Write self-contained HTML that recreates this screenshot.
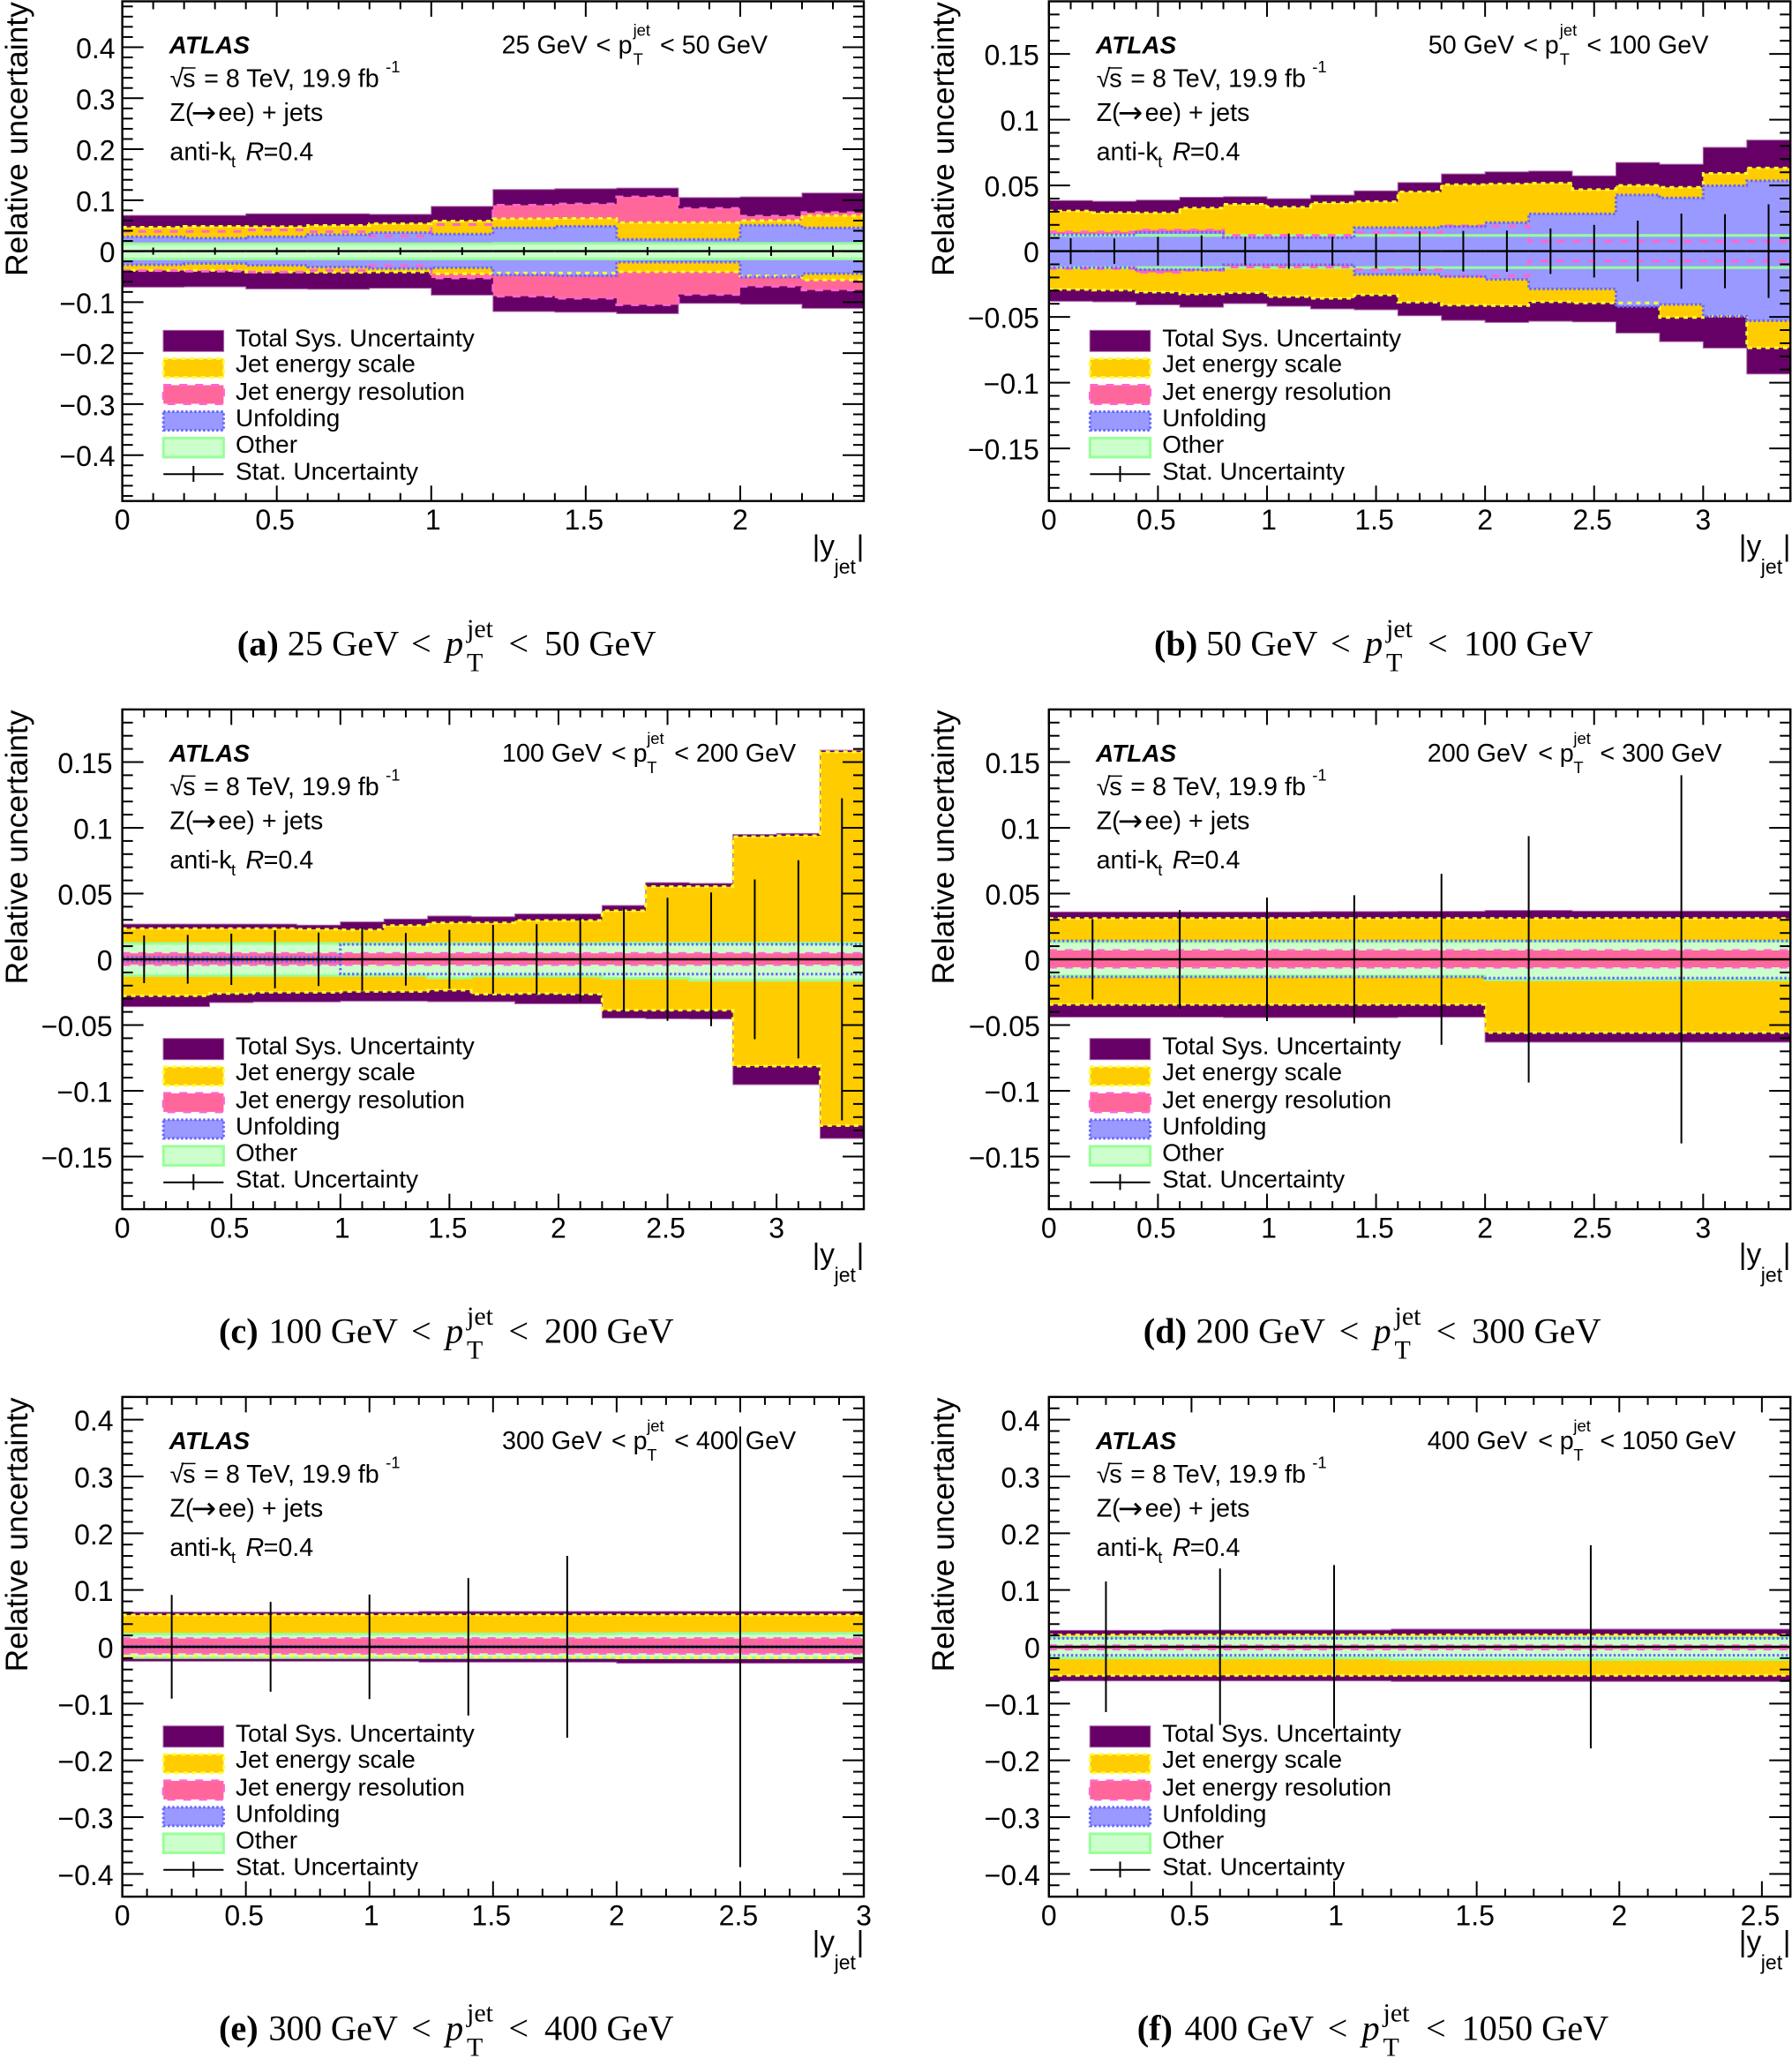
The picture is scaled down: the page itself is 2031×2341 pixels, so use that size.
<!DOCTYPE html>
<html lang="en">
<head>
<meta charset="utf-8">
<title>Relative uncertainty by jet rapidity</title>
<style>
html,body{margin:0;padding:0;background:#fff;}
svg{display:block;}
text{font-family:"Liberation Sans",sans-serif;fill:#000;white-space:pre;}
.lab{font-size:28px;}
.note{font-size:28.7px;}
.arrow{font-family:"DejaVu Sans",sans-serif;font-size:34px;}
.sm{font-size:18.4px;}
.atlas{font-size:28px;font-weight:bold;font-style:italic;}
.ti{font-style:italic;}
.tick{font-size:32px;}
.ytitle{font-size:35.4px;}
.xl{font-size:33.5px;}
.xs{font-size:23px;}
.cap{font-family:"Liberation Serif",serif;font-size:40.3px;}
.capb{font-family:"Liberation Serif",serif;font-size:40.3px;font-weight:bold;}
.capi{font-family:"Liberation Serif",serif;font-size:40.3px;font-style:italic;}
.caps{font-family:"Liberation Serif",serif;font-size:30px;}
.l-total{fill:#660066;stroke:#aa66aa;stroke-width:1;}
.l-jes{fill:#ffcc00;stroke:#ffff33;stroke-width:3;stroke-dasharray:5 5;}
.l-jer{fill:#ff6699;stroke:#ff66cc;stroke-width:3;stroke-dasharray:9 9;}
.l-unf{fill:#9999ff;stroke:#6666ff;stroke-width:3;stroke-dasharray:2.5 2.5;}
.l-oth{fill:#ccffcc;stroke:#99ff99;stroke-width:3;}
</style>
</head>
<body>
<svg id="fig" xmlns="http://www.w3.org/2000/svg" width="2031" height="2341" viewBox="0 0 2031 2341">
<rect x="0" y="0" width="2031" height="2341" fill="#fff"/>

<!-- PANEL A -->
<g id="panel-a" transform="translate(138.6,1.5)">
<g class="marks"></g>
<text class="ytitle" transform="translate(-107.6,311.5) rotate(-90)">Relative uncertainty</text>
<g><text class="xl" x="782" y="628">|y</text><text class="xs" x="807" y="648.5">jet</text><text class="xl" x="832" y="628">|</text></g>
<text class="atlas" x="53.2" y="59">ATLAS</text>
<g><text class="note" x="54" y="97">√</text><line x1="67" x2="83" y1="75.5" y2="75.5" stroke="#000" stroke-width="1.5"/><text class="note" x="68.5" y="97">s</text><text class="note" x="92.5" y="97">= 8 TeV, 19.9 fb</text><text class="sm" x="298.5" y="80.5">-1</text></g>
<g><text class="note" x="53.8" y="135.4">Z(</text><text class="arrow" x="78" y="137.5">→</text><text class="note" x="108.8" y="135.4">ee) + jets</text></g>
<g><text class="note" x="53.8" y="180">anti-k</text><text class="sm" x="123.4" y="188">t</text><text class="note ti" x="139.9" y="180">R</text><text class="note" x="160" y="180">=0.4</text></g>
<g><text class="note" x="430" y="59">25 GeV</text><text class="note" x="536.9" y="59">&lt;</text><text class="note" x="562" y="59">p</text><text class="sm" x="579" y="39">jet</text><text class="sm" x="579" y="72">T</text><text class="note" x="609.4" y="59">&lt; 50 GeV</text></g>
<g>
<rect class="l-total" x="46.4" y="372.8" width="68.6" height="24"/><text class="lab" x="128.4" y="390.8">Total Sys. Uncertainty</text>
<rect class="l-jes" x="46.6" y="405" width="68.2" height="21"/><text class="lab" x="128.4" y="420.2">Jet energy scale</text>
<rect class="l-jer" x="46.6" y="435" width="68.2" height="21"/><text class="lab" x="128.4" y="451.7">Jet energy resolution</text>
<rect class="l-unf" x="46.6" y="465" width="68.2" height="21"/><text class="lab" x="128.4" y="481.7">Unfolding</text>
<rect class="l-oth" x="46.6" y="495" width="68.2" height="21.5"/><text class="lab" x="128.4" y="511.7">Other</text>
<g><line x1="46.6" x2="114.8" y1="535.8" y2="535.8" stroke="#000" stroke-width="2"/><line x1="80.7" x2="80.7" y1="526.5" y2="544.5" stroke="#000" stroke-width="2"/></g><text class="lab" x="128.4" y="541.8">Stat. Uncertainty</text>
</g>
</g>

<!-- PANEL B -->
<g id="panel-b" transform="translate(1188.8,1.5)">
<g class="marks"></g>
<text class="ytitle" transform="translate(-107.6,311.5) rotate(-90)">Relative uncertainty</text>
<g><text class="xl" x="782" y="628">|y</text><text class="xs" x="807" y="648.5">jet</text><text class="xl" x="832" y="628">|</text></g>
<text class="atlas" x="53.2" y="59">ATLAS</text>
<g><text class="note" x="54" y="97">√</text><line x1="67" x2="83" y1="75.5" y2="75.5" stroke="#000" stroke-width="1.5"/><text class="note" x="68.5" y="97">s</text><text class="note" x="92.5" y="97">= 8 TeV, 19.9 fb</text><text class="sm" x="298.5" y="80.5">-1</text></g>
<g><text class="note" x="53.8" y="135.4">Z(</text><text class="arrow" x="78" y="137.5">→</text><text class="note" x="108.8" y="135.4">ee) + jets</text></g>
<g><text class="note" x="53.8" y="180">anti-k</text><text class="sm" x="123.4" y="188">t</text><text class="note ti" x="139.9" y="180">R</text><text class="note" x="160" y="180">=0.4</text></g>
<g><text class="note" x="430" y="59">50 GeV</text><text class="note" x="537.6" y="59">&lt;</text><text class="note" x="562" y="59">p</text><text class="sm" x="579" y="39">jet</text><text class="sm" x="579" y="72">T</text><text class="note" x="609.6" y="59">&lt; 100 GeV</text></g>
<g>
<rect class="l-total" x="46.4" y="372.8" width="68.6" height="24"/><text class="lab" x="128.4" y="390.8">Total Sys. Uncertainty</text>
<rect class="l-jes" x="46.6" y="405" width="68.2" height="21"/><text class="lab" x="128.4" y="420.2">Jet energy scale</text>
<rect class="l-jer" x="46.6" y="435" width="68.2" height="21"/><text class="lab" x="128.4" y="451.7">Jet energy resolution</text>
<rect class="l-unf" x="46.6" y="465" width="68.2" height="21"/><text class="lab" x="128.4" y="481.7">Unfolding</text>
<rect class="l-oth" x="46.6" y="495" width="68.2" height="21.5"/><text class="lab" x="128.4" y="511.7">Other</text>
<g><line x1="46.6" x2="114.8" y1="535.8" y2="535.8" stroke="#000" stroke-width="2"/><line x1="80.7" x2="80.7" y1="526.5" y2="544.5" stroke="#000" stroke-width="2"/></g><text class="lab" x="128.4" y="541.8">Stat. Uncertainty</text>
</g>
</g>

<!-- PANEL C -->
<g id="panel-c" transform="translate(138.6,803.9)">
<g class="marks"></g>
<text class="ytitle" transform="translate(-107.6,311.5) rotate(-90)">Relative uncertainty</text>
<g><text class="xl" x="782" y="628">|y</text><text class="xs" x="807" y="648.5">jet</text><text class="xl" x="832" y="628">|</text></g>
<text class="atlas" x="53.2" y="59">ATLAS</text>
<g><text class="note" x="54" y="97">√</text><line x1="67" x2="83" y1="75.5" y2="75.5" stroke="#000" stroke-width="1.5"/><text class="note" x="68.5" y="97">s</text><text class="note" x="92.5" y="97">= 8 TeV, 19.9 fb</text><text class="sm" x="298.5" y="80.5">-1</text></g>
<g><text class="note" x="53.8" y="135.4">Z(</text><text class="arrow" x="78" y="137.5">→</text><text class="note" x="108.8" y="135.4">ee) + jets</text></g>
<g><text class="note" x="53.8" y="180">anti-k</text><text class="sm" x="123.4" y="188">t</text><text class="note ti" x="139.9" y="180">R</text><text class="note" x="160" y="180">=0.4</text></g>
<g><text class="note" x="430.4" y="59">100 GeV</text><text class="note" x="554.4" y="59">&lt;</text><text class="note" x="579" y="59">p</text><text class="sm" x="594.6" y="39">jet</text><text class="sm" x="594.6" y="72">T</text><text class="note" x="625.6" y="59">&lt; 200 GeV</text></g>
<g>
<rect class="l-total" x="46.4" y="372.8" width="68.6" height="24"/><text class="lab" x="128.4" y="390.8">Total Sys. Uncertainty</text>
<rect class="l-jes" x="46.6" y="405" width="68.2" height="21"/><text class="lab" x="128.4" y="420.2">Jet energy scale</text>
<rect class="l-jer" x="46.6" y="435" width="68.2" height="21"/><text class="lab" x="128.4" y="451.7">Jet energy resolution</text>
<rect class="l-unf" x="46.6" y="465" width="68.2" height="21"/><text class="lab" x="128.4" y="481.7">Unfolding</text>
<rect class="l-oth" x="46.6" y="495" width="68.2" height="21.5"/><text class="lab" x="128.4" y="511.7">Other</text>
<g><line x1="46.6" x2="114.8" y1="535.8" y2="535.8" stroke="#000" stroke-width="2"/><line x1="80.7" x2="80.7" y1="526.5" y2="544.5" stroke="#000" stroke-width="2"/></g><text class="lab" x="128.4" y="541.8">Stat. Uncertainty</text>
</g>
</g>

<!-- PANEL D -->
<g id="panel-d" transform="translate(1188.8,803.9)">
<g class="marks"></g>
<text class="ytitle" transform="translate(-107.6,311.5) rotate(-90)">Relative uncertainty</text>
<g><text class="xl" x="782" y="628">|y</text><text class="xs" x="807" y="648.5">jet</text><text class="xl" x="832" y="628">|</text></g>
<text class="atlas" x="53.2" y="59">ATLAS</text>
<g><text class="note" x="54" y="97">√</text><line x1="67" x2="83" y1="75.5" y2="75.5" stroke="#000" stroke-width="1.5"/><text class="note" x="68.5" y="97">s</text><text class="note" x="92.5" y="97">= 8 TeV, 19.9 fb</text><text class="sm" x="298.5" y="80.5">-1</text></g>
<g><text class="note" x="53.8" y="135.4">Z(</text><text class="arrow" x="78" y="137.5">→</text><text class="note" x="108.8" y="135.4">ee) + jets</text></g>
<g><text class="note" x="53.8" y="180">anti-k</text><text class="sm" x="123.4" y="188">t</text><text class="note ti" x="139.9" y="180">R</text><text class="note" x="160" y="180">=0.4</text></g>
<g><text class="note" x="429" y="59">200 GeV</text><text class="note" x="554.4" y="59">&lt;</text><text class="note" x="579" y="59">p</text><text class="sm" x="594.6" y="39">jet</text><text class="sm" x="594.6" y="72">T</text><text class="note" x="624.6" y="59">&lt; 300 GeV</text></g>
<g>
<rect class="l-total" x="46.4" y="372.8" width="68.6" height="24"/><text class="lab" x="128.4" y="390.8">Total Sys. Uncertainty</text>
<rect class="l-jes" x="46.6" y="405" width="68.2" height="21"/><text class="lab" x="128.4" y="420.2">Jet energy scale</text>
<rect class="l-jer" x="46.6" y="435" width="68.2" height="21"/><text class="lab" x="128.4" y="451.7">Jet energy resolution</text>
<rect class="l-unf" x="46.6" y="465" width="68.2" height="21"/><text class="lab" x="128.4" y="481.7">Unfolding</text>
<rect class="l-oth" x="46.6" y="495" width="68.2" height="21.5"/><text class="lab" x="128.4" y="511.7">Other</text>
<g><line x1="46.6" x2="114.8" y1="535.8" y2="535.8" stroke="#000" stroke-width="2"/><line x1="80.7" x2="80.7" y1="526.5" y2="544.5" stroke="#000" stroke-width="2"/></g><text class="lab" x="128.4" y="541.8">Stat. Uncertainty</text>
</g>
</g>

<!-- PANEL E -->
<g id="panel-e" transform="translate(138.6,1582.9)">
<g class="marks"></g>
<text class="ytitle" transform="translate(-107.6,311.5) rotate(-90)">Relative uncertainty</text>
<g><text class="xl" x="782" y="628">|y</text><text class="xs" x="807" y="648.5">jet</text><text class="xl" x="832" y="628">|</text></g>
<text class="atlas" x="53.2" y="59">ATLAS</text>
<g><text class="note" x="54" y="97">√</text><line x1="67" x2="83" y1="75.5" y2="75.5" stroke="#000" stroke-width="1.5"/><text class="note" x="68.5" y="97">s</text><text class="note" x="92.5" y="97">= 8 TeV, 19.9 fb</text><text class="sm" x="298.5" y="80.5">-1</text></g>
<g><text class="note" x="53.8" y="135.4">Z(</text><text class="arrow" x="78" y="137.5">→</text><text class="note" x="108.8" y="135.4">ee) + jets</text></g>
<g><text class="note" x="53.8" y="180">anti-k</text><text class="sm" x="123.4" y="188">t</text><text class="note ti" x="139.9" y="180">R</text><text class="note" x="160" y="180">=0.4</text></g>
<g><text class="note" x="430.4" y="59">300 GeV</text><text class="note" x="554.4" y="59">&lt;</text><text class="note" x="579" y="59">p</text><text class="sm" x="594.6" y="39">jet</text><text class="sm" x="594.6" y="72">T</text><text class="note" x="625.6" y="59">&lt; 400 GeV</text></g>
<g>
<rect class="l-total" x="46.4" y="372.8" width="68.6" height="24"/><text class="lab" x="128.4" y="390.8">Total Sys. Uncertainty</text>
<rect class="l-jes" x="46.6" y="405" width="68.2" height="21"/><text class="lab" x="128.4" y="420.2">Jet energy scale</text>
<rect class="l-jer" x="46.6" y="435" width="68.2" height="21"/><text class="lab" x="128.4" y="451.7">Jet energy resolution</text>
<rect class="l-unf" x="46.6" y="465" width="68.2" height="21"/><text class="lab" x="128.4" y="481.7">Unfolding</text>
<rect class="l-oth" x="46.6" y="495" width="68.2" height="21.5"/><text class="lab" x="128.4" y="511.7">Other</text>
<g><line x1="46.6" x2="114.8" y1="535.8" y2="535.8" stroke="#000" stroke-width="2"/><line x1="80.7" x2="80.7" y1="526.5" y2="544.5" stroke="#000" stroke-width="2"/></g><text class="lab" x="128.4" y="541.8">Stat. Uncertainty</text>
</g>
</g>

<!-- PANEL F -->
<g id="panel-f" transform="translate(1188.8,1582.9)">
<g class="marks"></g>
<text class="ytitle" transform="translate(-107.6,311.5) rotate(-90)">Relative uncertainty</text>
<g><text class="xl" x="782" y="628">|y</text><text class="xs" x="807" y="648.5">jet</text><text class="xl" x="832" y="628">|</text></g>
<text class="atlas" x="53.2" y="59">ATLAS</text>
<g><text class="note" x="54" y="97">√</text><line x1="67" x2="83" y1="75.5" y2="75.5" stroke="#000" stroke-width="1.5"/><text class="note" x="68.5" y="97">s</text><text class="note" x="92.5" y="97">= 8 TeV, 19.9 fb</text><text class="sm" x="298.5" y="80.5">-1</text></g>
<g><text class="note" x="53.8" y="135.4">Z(</text><text class="arrow" x="78" y="137.5">→</text><text class="note" x="108.8" y="135.4">ee) + jets</text></g>
<g><text class="note" x="53.8" y="180">anti-k</text><text class="sm" x="123.4" y="188">t</text><text class="note ti" x="139.9" y="180">R</text><text class="note" x="160" y="180">=0.4</text></g>
<g><text class="note" x="429" y="59">400 GeV</text><text class="note" x="554.4" y="59">&lt;</text><text class="note" x="579" y="59">p</text><text class="sm" x="594.6" y="39">jet</text><text class="sm" x="594.6" y="72">T</text><text class="note" x="624.6" y="59">&lt; 1050 GeV</text></g>
<g>
<rect class="l-total" x="46.4" y="372.8" width="68.6" height="24"/><text class="lab" x="128.4" y="390.8">Total Sys. Uncertainty</text>
<rect class="l-jes" x="46.6" y="405" width="68.2" height="21"/><text class="lab" x="128.4" y="420.2">Jet energy scale</text>
<rect class="l-jer" x="46.6" y="435" width="68.2" height="21"/><text class="lab" x="128.4" y="451.7">Jet energy resolution</text>
<rect class="l-unf" x="46.6" y="465" width="68.2" height="21"/><text class="lab" x="128.4" y="481.7">Unfolding</text>
<rect class="l-oth" x="46.6" y="495" width="68.2" height="21.5"/><text class="lab" x="128.4" y="511.7">Other</text>
<g><line x1="46.6" x2="114.8" y1="535.8" y2="535.8" stroke="#000" stroke-width="2"/><line x1="80.7" x2="80.7" y1="526.5" y2="544.5" stroke="#000" stroke-width="2"/></g><text class="lab" x="128.4" y="541.8">Stat. Uncertainty</text>
</g>
</g>

<!-- CAPTIONS -->
<g><text class="capb" x="268.8" y="742.7">(a)</text><text class="cap" x="325.8" y="742.7">25 GeV</text><text class="cap" x="466" y="742.7">&lt;</text><text class="capi" x="505" y="742.7">p</text><text class="caps" x="529" y="721.8">jet</text><text class="caps" x="529" y="760.6">T</text><text class="cap" x="576.4" y="742.7">&lt;</text><text class="cap" x="617" y="742.7">50 GeV</text></g>
<g><text class="capb" x="1308" y="742.7">(b)</text><text class="cap" x="1367" y="742.7">50 GeV</text><text class="cap" x="1508" y="742.7">&lt;</text><text class="capi" x="1547" y="742.7">p</text><text class="caps" x="1571" y="721.8">jet</text><text class="caps" x="1571" y="760.6">T</text><text class="cap" x="1618" y="742.7">&lt;</text><text class="cap" x="1659" y="742.7">100 GeV</text></g>
<g><text class="capb" x="248" y="1521.7">(c)</text><text class="cap" x="304.4" y="1521.7">100 GeV</text><text class="cap" x="466" y="1521.7">&lt;</text><text class="capi" x="505" y="1521.7">p</text><text class="caps" x="529" y="1500.8">jet</text><text class="caps" x="529" y="1539.6">T</text><text class="cap" x="576.4" y="1521.7">&lt;</text><text class="cap" x="617" y="1521.7">200 GeV</text></g>
<g><text class="capb" x="1295.8" y="1521.7">(d)</text><text class="cap" x="1355.5" y="1521.7">200 GeV</text><text class="cap" x="1517.6" y="1521.7">&lt;</text><text class="capi" x="1556.5" y="1521.7">p</text><text class="caps" x="1580.5" y="1500.8">jet</text><text class="caps" x="1580.5" y="1539.6">T</text><text class="cap" x="1627.8" y="1521.7">&lt;</text><text class="cap" x="1668" y="1521.7">300 GeV</text></g>
<g><text class="capb" x="248" y="2311.6">(e)</text><text class="cap" x="304.4" y="2311.6">300 GeV</text><text class="cap" x="466" y="2311.6">&lt;</text><text class="capi" x="505" y="2311.6">p</text><text class="caps" x="529" y="2290.7">jet</text><text class="caps" x="529" y="2329.5">T</text><text class="cap" x="576.4" y="2311.6">&lt;</text><text class="cap" x="617" y="2311.6">400 GeV</text></g>
<g><text class="capb" x="1288.7" y="2311.6">(f)</text><text class="cap" x="1342.5" y="2311.6">400 GeV</text><text class="cap" x="1504.6" y="2311.6">&lt;</text><text class="capi" x="1543.5" y="2311.6">p</text><text class="caps" x="1567.5" y="2290.7">jet</text><text class="caps" x="1567.5" y="2329.5">T</text><text class="cap" x="1616" y="2311.6">&lt;</text><text class="cap" x="1656.5" y="2311.6">1050 GeV</text></g>
</svg>

<script>
// ---- tick labels ----
const yLabelsWide = ["0.4","0.3","0.2","0.1","0","\u22120.1","\u22120.2","\u22120.3","\u22120.4"];
const yLabelsNarrow = ["0.15","0.1","0.05","0","\u22120.05","\u22120.1","\u22120.15"];
const xLabels24 = ["0","0.5","1","1.5","2"];
const xLabels34 = ["0","0.5","1","1.5","2","2.5","3"];
const xLabels30 = ["0","0.5","1","1.5","2","2.5","3"];
const xLabels26 = ["0","0.5","1","1.5","2","2.5"];

// ---- panel a: 25-50 GeV ----
const aEdges = [0,0.2,0.4,0.6,0.8,1.0,1.2,1.4,1.6,1.8,2.0,2.2,2.4];
const aTotalUp = [.070,.070,.0734,.0734,.0723,.0879,.1208,.1225,.1237,.1052,.1064,.1139];
const aTotalDn = [-.0705,-.0699,-.074,-.0746,-.0728,-.0861,-.1185,-.1197,-.1225,-.1023,-.104,-.1121];
const aJesUp = [.0468,.0486,.048,.0503,.0538,.059,.0636,.0642,.0561,.0561,.0601,.0699];
const aJesDn = [-.0376,-.0376,-.041,-.0416,-.041,-.0445,-.0428,-.0428,-.0405,-.0405,-.0486,-.0566];
const aJerUp = [.0387,.0387,.0416,.0382,.0295,.052,.0902,.0925,.1064,.0838,.0688,.0757];
const aJerDn = [-.0382,-.0393,-.041,-.0376,-.0283,-.0526,-.0884,-.0925,-.1052,-.085,-.0688,-.0763];
const aUnfUp = [.0283,.0254,.0283,.0324,.0364,.0335,.0457,.0486,.0231,.0231,.0509,.0457];
const aUnfDn = [-.0266,-.0243,-.0277,-.0312,-.0341,-.0324,-.0468,-.048,-.0214,-.0214,-.0509,-.0439];
const aOthUp = [.0145,.0145,.0145,.0145,.0145,.0145,.015,.015,.015,.015,.015,.015];
const aOthDn = [-.015,-.015,-.015,-.015,-.015,-.015,-.015,-.015,-.015,-.015,-.015,-.015];
const aStat = [.007,.007,.007,.0075,.007,.0075,.008,.008,.008,.0085,.0095,.011];

// ---- panel b: 50-100 GeV ----
const bEdges = [0,0.2,0.4,0.6,0.8,1.0,1.2,1.4,1.6,1.8,2.0,2.2,2.4,2.6,2.8,3.0,3.2,3.4];
const bTotalUp = [.0385,.0379,.0388,.041,.0414,.0399,.0426,.0459,.0522,.0587,.0603,.0609,.0573,.0674,.0661,.0789,.0845];
const bTotalDn = [-.0381,-.0385,-.0408,-.0426,-.0399,-.0419,-.0439,-.0446,-.0491,-.0526,-.0542,-.0533,-.0538,-.0623,-.0688,-.0737,-.0934];
const bJesUp = [.0305,.0293,.0291,.0327,.0356,.0334,.0367,.0376,.045,.0506,.0511,.0517,.0468,.05,.0486,.0591,.0632];
const bJesDn = [-.0291,-.0296,-.0311,-.0325,-.0316,-.0345,-.0358,-.0332,-.0388,-.041,-.0414,-.0385,-.0394,-.0394,-.0504,-.0495,-.0735];
const bJerUp = [.0146,.0146,.0161,.0161,.0121,.0121,.0121,.0141,.0141,.0193,.019,.0076,.0076,.0076,.0076,.0076,.0076];
const bJerDn = [-.0132,-.0132,-.0161,-.0145,-.0121,-.0121,-.0121,-.0141,-.0141,-.0188,-.0188,-.0074,-.0074,-.0074,-.0074,-.0074,-.0074];
const bUnfUp = [.0125,.0125,.0143,.0143,.0103,.0103,.0103,.0179,.0179,.0188,.0217,.0284,.0284,.0428,.0405,.0497,.0535];
const bUnfDn = [-.0125,-.0125,-.0141,-.0141,-.0103,-.0103,-.0103,-.0177,-.0177,-.0193,-.0215,-.0287,-.0287,-.0421,-.0405,-.0495,-.0529];
const bOthUp = [.012,.012,.012,.012,.012,.012,.012,.012,.012,.012,.012,.012,.012,.012,.012,.012,.012];
const bOthDn = [-.0125,-.0125,-.0125,-.0125,-.0125,-.0125,-.0125,-.0125,-.0125,-.0125,-.0125,-.0125,-.0125,-.0125,-.0125,-.0125,-.0125];
const bStat = [.0098,.0096,.0109,.012,.0107,.0134,.011,.0131,.015,.0154,.0157,.0173,.02,.0232,.0286,.0282,.0356];

// ---- panel c: 100-200 GeV ----
const cEdges = [0,0.2,0.4,0.6,0.8,1.0,1.2,1.4,1.6,1.8,2.0,2.2,2.4,2.6,2.8,3.0,3.2,3.4];
const cTotalUp = [.0268,.0268,.0268,.0268,.026,.0284,.0306,.0329,.0324,.0345,.0345,.0409,.0583,.0577,.095,.0957,.159];
const cTotalDn = [-.036,-.036,-.0329,-.0324,-.0324,-.0318,-.0318,-.0322,-.0322,-.0338,-.0338,-.0447,-.0452,-.0454,-.0953,-.0953,-.1362];
const cJesUp = [.0233,.0233,.0233,.0233,.0228,.0224,.0257,.0277,.0277,.0295,.0295,.0369,.0553,.0553,.0933,.094,.1577];
const cJesDn = [-.0277,-.0277,-.026,-.0251,-.0251,-.0244,-.0244,-.0235,-.0264,-.026,-.0264,-.0387,-.0387,-.0387,-.0812,-.0812,-.1264];
const cJerUp = [.0045,.0045,.0045,.0045,.0045,.0045,.0045,.0045,.0045,.0045,.0045,.0045,.0045,.0045,.0045,.0045,.0045];
const cJerDn = [-.004,-.004,-.004,-.004,-.004,-.004,-.004,-.004,-.004,-.004,-.004,-.004,-.004,-.004,-.004,-.004,-.004];
const cUnfUp = [.0014,.0014,.0014,.0014,.0014,.0114,.0114,.0114,.0114,.0114,.0114,.0114,.0114,.0114,.0114,.0114,.0114];
const cUnfDn = [-.0014,-.0014,-.0014,-.0014,-.0014,-.0112,-.0112,-.0112,-.0112,-.0112,-.0112,-.0112,-.0112,-.0112,-.0112,-.0112,-.0112];
const cOthUp = [.0121,.0121,.0121,.0121,.0121,.0121,.0121,.0121,.0121,.0121,.0121,.0123,.0123,.0123,.0123,.0123,.0123];
const cOthDn = [-.0123,-.0123,-.0123,-.0123,-.0123,-.0123,-.0123,-.0141,-.0128,-.0128,-.0128,-.0143,-.0143,-.0159,-.0159,-.0159,-.0159];
const cStat = [.0181,.0185,.0195,.0221,.0203,.024,.02,.0224,.0262,.0268,.032,.0395,.0468,.0508,.0607,.0753,.1225];

// ---- panel d: 200-300 GeV ----
const dEdges = [0,0.4,0.8,1.2,1.6,2.0,2.4,3.4];
const dTotalUp = [.036,.036,.036,.0363,.0365,.0372,.0367];
const dTotalDn = [-.044,-.044,-.0443,-.0443,-.044,-.063,-.063];
const dJesUp = [.031,.031,.031,.031,.031,.031,.031];
const dJesDn = [-.0343,-.0343,-.0343,-.0343,-.0343,-.0557,-.0557];
const dJerUp = [.0067,.0067,.0067,.0067,.0067,.0067,.0067];
const dJerDn = [-.006,-.006,-.006,-.006,-.006,-.006,-.006];
const dUnfUp = [.014,.014,.014,.014,.014,.014,.014];
const dUnfDn = [-.0133,-.0133,-.0133,-.0133,-.0133,-.0143,-.0143];
const dOthUp = [.0133,.0133,.0133,.0133,.0133,.0137,.0137];
const dOthDn = [-.0127,-.0127,-.0127,-.0127,-.0127,-.0157,-.0157];
const dStat = [.0305,.0375,.047,.0487,.065,.0937,.14];

// ---- panel e: 300-400 GeV ----
const eEdges = [0,0.4,0.8,1.2,1.6,2.0,3.0];
const eTotalUp = [.0611,.0611,.0611,.0622,.0622,.0622];
const eTotalDn = [-.0254,-.0254,-.0254,-.027,-.027,-.029];
const eJesUp = [.056,.056,.056,.056,.056,.056];
const eJesDn = [-.0166,-.0166,-.0166,-.018,-.018,-.0195];
const eJerUp = [.0145,.0145,.0145,.0145,.0145,.0145];
const eJerDn = [-.0114,-.0114,-.0114,-.0114,-.0114,-.0114];
const eUnfUp = [.001,.001,.001,.001,.001,.001];
const eUnfDn = [-.001,-.001,-.001,-.001,-.001,-.001];
const eOthUp = [.0223,.0223,.0223,.0228,.0228,.0238];
const eOthDn = [-.019,-.019,-.019,-.019,-.019,-.0195];
const eStat = [.0913,.079,.092,.121,.16,.388];

// ---- panel f: 400-1050 GeV ----
const fEdges = [0,0.4,0.8,1.2,2.6];
const fTotalUp = [.029,.0295,.0295,.0311];
const fTotalDn = [-.06,-.06,-.06,-.0611];
const fJesUp = [.0207,.0207,.0207,.0207];
const fJesDn = [-.0503,-.0503,-.0503,-.0503];
const fJerUp = [.002,.002,.002,.002];
const fJerDn = [-.0041,-.0041,-.0041,-.0041];
const fUnfUp = [.015,.015,.015,.015];
const fUnfDn = [-.015,-.015,-.015,-.015];
const fOthUp = [.0166,.0166,.0166,.0166];
const fOthDn = [-.0197,-.0197,-.0197,-.0223];
const fStat = [.115,.138,.144,.179];

const NS = 'http://www.w3.org/2000/svg';
const PW = 840.4, PH = 566.2;

const styleFill = {total:'#660066',jes:'#ffcc00',jer:'#ff6699',unf:'#9999ff',oth:'#ccffcc'};
const styleLine = {
  total:{c:'#aa66aa',w:1,d:''},
  oth:{c:'#99ff99',w:3,d:''},
  jes:{c:'#ffff33',w:3,d:'5 5'},
  jer:{c:'#ff66cc',w:3,d:'9 9'},
  unf:{c:'#6666ff',w:3,d:'2.5 2.5'}
};
const lineOrder = ['total','oth','jes','jer','unf'];

function mk(tag, attrs, parent){
  const el = document.createElementNS(NS, tag);
  for (const k in attrs) el.setAttribute(k, attrs[k]);
  parent.appendChild(el);
  return el;
}
function stepPath(edges, vals, sx, sy){
  let d = 'M' + sx(edges[0]).toFixed(2) + ' ' + sy(vals[0]).toFixed(2);
  for (let i = 0; i < vals.length; i++){
    d += ' L' + sx(edges[i]).toFixed(2) + ' ' + sy(vals[i]).toFixed(2);
    d += ' L' + sx(edges[i+1]).toFixed(2) + ' ' + sy(vals[i]).toFixed(2);
  }
  return d;
}
function bandPath(edges, up, dn, sx, sy){
  let d = stepPath(edges, up, sx, sy);
  for (let i = dn.length - 1; i >= 0; i--){
    d += ' L' + sx(edges[i+1]).toFixed(2) + ' ' + sy(dn[i]).toFixed(2);
    d += ' L' + sx(edges[i]).toFixed(2) + ' ' + sy(dn[i]).toFixed(2);
  }
  return d + ' Z';
}
function parseLabel(s){ return parseFloat(s.replace('\u2212','-')); }
function labelNudge(s){
  if (s === '1') return 2;
  if (s.indexOf('.') >= 0) return -2;
  return 0;
}

function drawPanel(p){
  const root = document.querySelector('#panel-' + p.id + ' .marks');
  const sx = v => v / p.xMax * PW;
  const sy = v => PH / 2 - v / p.yMax * (PH / 2);

  const defs = mk('defs', {}, root);
  const clip = mk('clipPath', {id:'clip-' + p.id}, defs);
  mk('rect', {x:0, y:0, width:PW, height:PH}, clip);

  const plot = mk('g', {'clip-path':'url(#clip-' + p.id + ')'}, root);
  
  

  for (const key of p.fillOrder){
    const band = p.bands[key];
    const f = mk('path', {d:bandPath(p.edges, band[0], band[1], sx, sy), fill:styleFill[key], stroke:'none'}, plot);
    
    
  }
  for (const key of lineOrder){
    const band = p.bands[key], st = styleLine[key];
    for (const side of [0, 1]){
      const l = mk('path', {d:stepPath(p.edges, band[side], sx, sy), fill:'none', stroke:st.c, 'stroke-width':st.w, 'stroke-dasharray':st.d}, plot);
      
      
    }
  }
  for (let i = 0; i < p.stat.length; i++){
    const c = (p.edges[i] + p.edges[i+1]) / 2;
    const v = mk('line', {x1:sx(c), x2:sx(c), y1:sy(p.stat[i]), y2:sy(-p.stat[i]), stroke:'#000', 'stroke-width':2}, plot);
    
    
    const h = mk('line', {x1:sx(p.edges[i]), x2:sx(p.edges[i+1]), y1:sy(0), y2:sy(0), stroke:'#000', 'stroke-width':2.4}, plot);
    
    
  }

  // axes
  const axes = mk('g', {stroke:'#000', 'stroke-width':2, fill:'none'}, root);
  
  
  const tick = (x1, y1, x2, y2) => mk('line', {x1, y1, x2, y2}, axes);
  const nx = Math.round(p.xMax / 0.1);
  for (let i = 0; i <= nx; i++){
    const x = sx(i * 0.1), major = i % 5 === 0, len = major ? 17.5 : 9;
    tick(x, 0, x, len);
    tick(x, PH, x, PH - len);
  }
  const ny = Math.floor(p.yMax / p.yMinor + 1e-6);
  const every = Math.round(p.yMajor / p.yMinor);
  for (let i = -ny; i <= ny; i++){
    const y = sy(i * p.yMinor), major = i % every === 0, len = major ? 24 : 12;
    tick(0, y, len, y);
    tick(PW, y, PW - len, y);
  }
  const frame = mk('rect', {x:0, y:0, width:PW, height:PH, fill:'none', stroke:'#000', 'stroke-width':2.4}, root);
  
  

  for (const s of p.yLabels){
    const t = mk('text', {class:'tick', x:-p.yLabelGap, y:sy(parseLabel(s)) + 11.5 + 1, 'text-anchor':'end'}, root);
    
    
    t.textContent = s;
  }
  for (const s of p.xLabels){
    const t = mk('text', {class:'tick', x:sx(parseLabel(s)) + labelNudge(s), y:PH + 32.5, 'text-anchor':'middle'}, root);
    
    
    t.textContent = s;
  }
}

drawPanel({id:'a', xMax:2.4, yMax:.49, yMajor:.1, yMinor:.02, yLabelGap:8, yLabels:yLabelsWide, xLabels:xLabels24,
  edges:aEdges, stat:aStat, fillOrder:['total','jer','jes','unf','oth'],
  bands:{total:[aTotalUp,aTotalDn], jes:[aJesUp,aJesDn], jer:[aJerUp,aJerDn], unf:[aUnfUp,aUnfDn], oth:[aOthUp,aOthDn]}});
drawPanel({id:'b', xMax:3.4, yMax:.19, yMajor:.05, yMinor:.01, yLabelGap:11, yLabels:yLabelsNarrow, xLabels:xLabels34,
  edges:bEdges, stat:bStat, fillOrder:['total','jes','oth','jer','unf'],
  bands:{total:[bTotalUp,bTotalDn], jes:[bJesUp,bJesDn], jer:[bJerUp,bJerDn], unf:[bUnfUp,bUnfDn], oth:[bOthUp,bOthDn]}});
drawPanel({id:'c', xMax:3.4, yMax:.19, yMajor:.05, yMinor:.01, yLabelGap:11, yLabels:yLabelsNarrow, xLabels:xLabels34,
  edges:cEdges, stat:cStat, fillOrder:['total','jes','unf','oth','jer'],
  bands:{total:[cTotalUp,cTotalDn], jes:[cJesUp,cJesDn], jer:[cJerUp,cJerDn], unf:[cUnfUp,cUnfDn], oth:[cOthUp,cOthDn]}});
drawPanel({id:'d', xMax:3.4, yMax:.19, yMajor:.05, yMinor:.01, yLabelGap:10, yLabels:yLabelsNarrow, xLabels:xLabels34,
  edges:dEdges, stat:dStat, fillOrder:['total','jes','unf','oth','jer'],
  bands:{total:[dTotalUp,dTotalDn], jes:[dJesUp,dJesDn], jer:[dJerUp,dJerDn], unf:[dUnfUp,dUnfDn], oth:[dOthUp,dOthDn]}});
drawPanel({id:'e', xMax:3.0, yMax:.44, yMajor:.1, yMinor:.02, yLabelGap:10, yLabels:yLabelsWide, xLabels:xLabels30,
  edges:eEdges, stat:eStat, fillOrder:['total','jes','unf','oth','jer'],
  bands:{total:[eTotalUp,eTotalDn], jes:[eJesUp,eJesDn], jer:[eJerUp,eJerDn], unf:[eUnfUp,eUnfDn], oth:[eOthUp,eOthDn]}});
drawPanel({id:'f', xMax:2.6, yMax:.44, yMajor:.1, yMinor:.02, yLabelGap:10, yLabels:yLabelsWide, xLabels:xLabels26,
  edges:fEdges, stat:fStat, fillOrder:['total','jes','unf','oth','jer'],
  bands:{total:[fTotalUp,fTotalDn], jes:[fJesUp,fJesDn], jer:[fJerUp,fJerDn], unf:[fUnfUp,fUnfDn], oth:[fOthUp,fOthDn]}});
</script>
</body>
</html>
